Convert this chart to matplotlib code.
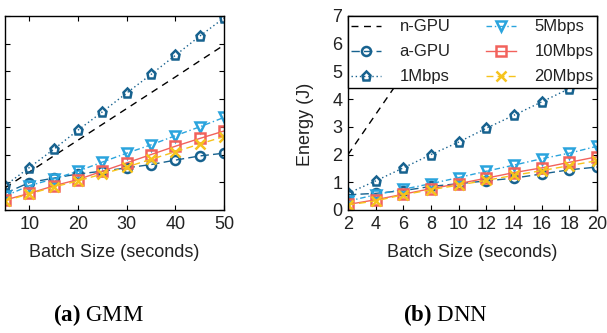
import numpy as np
import matplotlib
matplotlib.use("Agg")
import matplotlib.pyplot as plt

plt.rcParams['font.family'] = ['Liberation Sans', 'DejaVu Sans']
plt.rcParams['mathtext.fontset'] = 'custom'
plt.rcParams['mathtext.rm'] = 'Liberation Serif'
plt.rcParams['mathtext.bf'] = 'Liberation Serif:bold'

# GMM panel data
gmm_x = [5, 10, 15, 20, 25, 30, 35, 40, 45, 50]
gmm_ngpu = [0.80, 1.37, 1.95, 2.52, 3.09, 3.66, 4.23, 4.80, 5.38, 5.95]
gmm_agpu = [0.60, 0.99, 1.15, 1.30, 1.40, 1.52, 1.64, 1.80, 1.95, 2.05]
gmm_1mbps = [0.88, 1.53, 2.19, 2.88, 3.54, 4.22, 4.89, 5.58, 6.27, 6.93]
gmm_5mbps = [0.50, 0.88, 1.12, 1.40, 1.73, 2.05, 2.35, 2.68, 3.00, 3.34]
gmm_10mbps = [0.36, 0.60, 0.87, 1.10, 1.40, 1.70, 2.00, 2.30, 2.58, 2.85]
gmm_20mbps = [0.33, 0.58, 0.83, 1.05, 1.30, 1.55, 1.83, 2.10, 2.38, 2.65]

# DNN panel data
dnn_x = [2, 4, 6, 8, 10, 12, 14, 16, 18, 20]
dnn_ngpu = [2.00, 3.45, 4.90, 6.35, 7.80, 9.25, 10.70, 12.15, 13.60, 15.05]
dnn_agpu = [0.55, 0.60, 0.70, 0.85, 0.95, 1.05, 1.15, 1.30, 1.45, 1.55]
dnn_1mbps = [0.60, 1.05, 1.52, 2.00, 2.45, 2.95, 3.42, 3.90, 4.38, 4.85]
dnn_5mbps = [0.32, 0.55, 0.75, 0.95, 1.17, 1.40, 1.62, 1.85, 2.05, 2.30]
dnn_10mbps = [0.20, 0.37, 0.57, 0.77, 0.95, 1.15, 1.35, 1.52, 1.72, 1.92]
dnn_20mbps = [0.18, 0.33, 0.55, 0.73, 0.90, 1.07, 1.25, 1.42, 1.60, 1.78]

labels = ['n-GPU', 'a-GPU', '1Mbps', '5Mbps', '10Mbps', '20Mbps']
dark = '#17628f'
light = '#2aa4dd'
red = '#f2625c'
yellow = '#f6c31c'

styles = [
    dict(color='black', ls=(0, (5, 4)), marker=None),
    dict(color=dark, ls=(0, (6, 3)), marker='o'),
    dict(color=dark, ls=(0, (1, 2)), marker='p'),
    dict(color=light, ls=(0, (4, 2, 1, 2)), marker='v'),
    dict(color=red, ls='-', marker='s'),
    dict(color=yellow, ls=(0, (5, 3)), marker='x'),
]


def draw(ax, x, series):
    lines = []
    for s, y, lab in zip(styles, series, labels):
        ln, = ax.plot(x, y, color=s['color'], linestyle=s['ls'], marker=s['marker'],
                      markersize=6.5, markeredgewidth=1.8, markerfacecolor='none',
                      linewidth=1.0, label=lab)
        lines.append(ln)
    ax.tick_params(direction='in', top=True, right=True, length=3.5, labelsize=13, pad=4,
                   labelcolor='#222222')
    for sp in ax.spines.values():
        sp.set_linewidth(1.0)
    return lines


fig = plt.figure(figsize=(6.07, 3.33), dpi=100)
ax1 = fig.add_axes([5 / 607, 1 - 210 / 333, 219 / 607, 194 / 333])
ax2 = fig.add_axes([348 / 607, 1 - 210 / 333, 249 / 607, 194 / 333])

draw(ax1, gmm_x, [gmm_ngpu, gmm_agpu, gmm_1mbps, gmm_5mbps, gmm_10mbps, gmm_20mbps])
ax1.set_xlim(5, 50)
ax1.set_ylim(0, 7)
ax1.set_xticks([10, 20, 30, 40, 50])
ax1.set_yticks(range(0, 8))
ax1.tick_params(labelleft=False)
ax1.set_xlabel('Batch Size (seconds)', fontsize=13, labelpad=8, color='#222222')

lines = draw(ax2, dnn_x, [dnn_ngpu, dnn_agpu, dnn_1mbps, dnn_5mbps, dnn_10mbps, dnn_20mbps])
ax2.set_xlim(2, 20)
ax2.set_ylim(0, 7)
ax2.set_xticks(dnn_x)
ax2.set_yticks(range(0, 8))
ax2.set_xlabel('Batch Size (seconds)', fontsize=13, labelpad=8, color='#222222')
ax2.set_ylabel('Energy (J)', fontsize=13, color='#222222')
ax2.yaxis.set_label_coords(-34 / 249, 0.443)

leg = ax2.legend(handles=lines, ncol=2, loc='upper left', bbox_to_anchor=(0, 1, 1, 0),
                 mode='expand', borderaxespad=0, fancybox=False, framealpha=1,
                 edgecolor='black', fontsize=12, handlelength=1.8, handletextpad=1.1,
                 columnspacing=1.0, labelspacing=0.6, borderpad=0.2)
leg.get_frame().set_linewidth(1.0)
for t in leg.get_texts():
    t.set_color('#222222')

fig.text(98 / 607, 1 - 315 / 333, r'$\mathbf{(a)}$ GMM', ha='center', va='center',
         fontsize=16.5, family='Liberation Serif')
fig.text(445 / 607, 1 - 315 / 333, r'$\mathbf{(b)}$ DNN', ha='center', va='center',
         fontsize=16.5, family='Liberation Serif')

fig.savefig('out.png', dpi=100)
